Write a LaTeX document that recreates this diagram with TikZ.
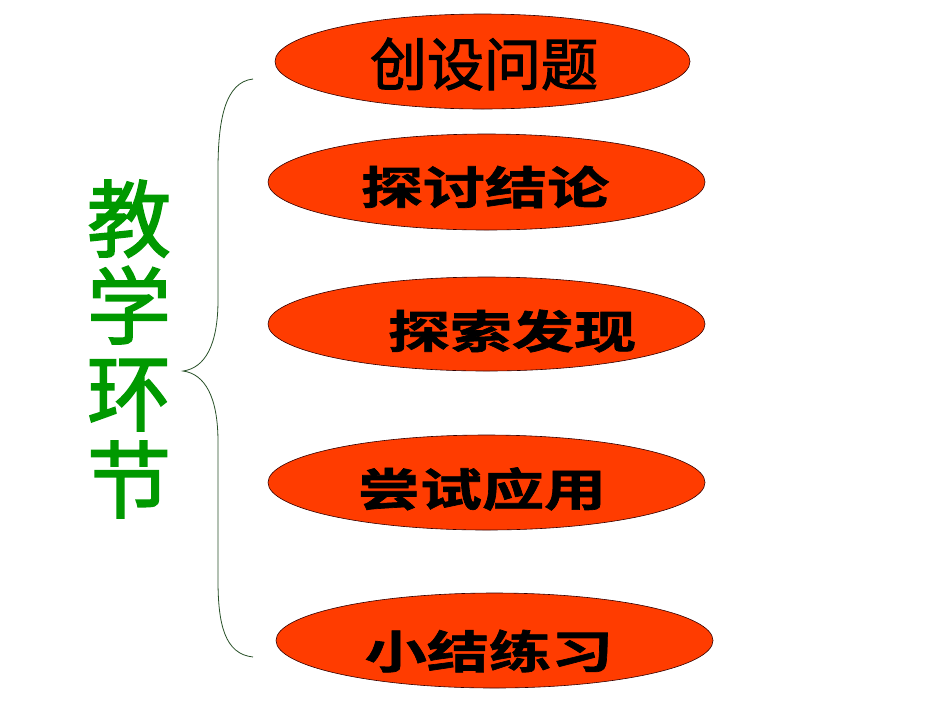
\documentclass[tikz,border=0pt]{standalone}
\usepackage{fontspec}
\newfontfamily\cjk{Noto Sans CJK SC}
\newfontfamily\cjkthick[FakeBold=2]{Noto Sans CJK SC}
\newfontfamily\cjkwide[FakeStretch=1.38,FakeBold=1.5]{Noto Sans CJK SC Bold}
\usetikzlibrary{shapes.geometric}
\definecolor{ellfill}{RGB}{255,60,0}
\definecolor{braceg}{RGB}{40,80,40}
\definecolor{titleg}{RGB}{0,153,0}
\begin{document}
\begin{tikzpicture}[x=1pt,y=-1pt,
  oval/.style={ellipse,draw=black!80!red,line width=0.6pt,fill=ellfill,inner sep=0pt},
  boldlabel/.style={font=\cjkwide\fontsize{45}{45}\selectfont,text=black,inner sep=0pt},
  songlabel/.style={font=\cjkthick\fontsize{57}{57}\selectfont,text=black,inner sep=0pt},
  bracestyle/.style={draw=braceg,line width=0.8pt}]
\useasboundingbox (0,0) rectangle (950,713);
\fill[white] (0,0) rectangle (950,713);
\node[oval,minimum width=415pt,minimum height=95pt] (e1) at (482.5,61.5) {};
\node[oval,minimum width=437pt,minimum height=96pt] (e2) at (486.5,182) {};
\node[oval,minimum width=437pt,minimum height=94pt] (e3) at (486.5,324) {};
\node[oval,minimum width=437pt,minimum height=95pt] (e4) at (486.5,482.5) {};
\node[oval,minimum width=437pt,minimum height=95pt] (e5) at (494.5,640.5) {};
\node[songlabel] (t1) at (484,64) {创设问题};
\node[boldlabel] (t2) at (485,187) {探讨结论};
\node[boldlabel] (t3) at (512,331) {探索发现};
\node[boldlabel] (t4) at (482,489) {尝试应用};
\node[boldlabel] (t5) at (489,651) {小结练习};
\node[font=\cjkthick\fontsize{84}{87}\selectfont,text=titleg,align=center,inner sep=0pt] (title) at (129,349) {教\\学\\环\\节};
\coordinate (btop) at (253,79);
\coordinate (btip) at (183,371);
\coordinate (bbot) at (253,657);
\draw[bracestyle] (btop) .. controls (225,82) and (218,120) .. (218,170)
  -- (218,300) .. controls (218,345) and (205,368) .. (btip)
  .. controls (205,374) and (218,397) .. (218,442)
  -- (218,580) .. controls (218,625) and (225,654) .. (bbot);
\end{tikzpicture}
\end{document}
